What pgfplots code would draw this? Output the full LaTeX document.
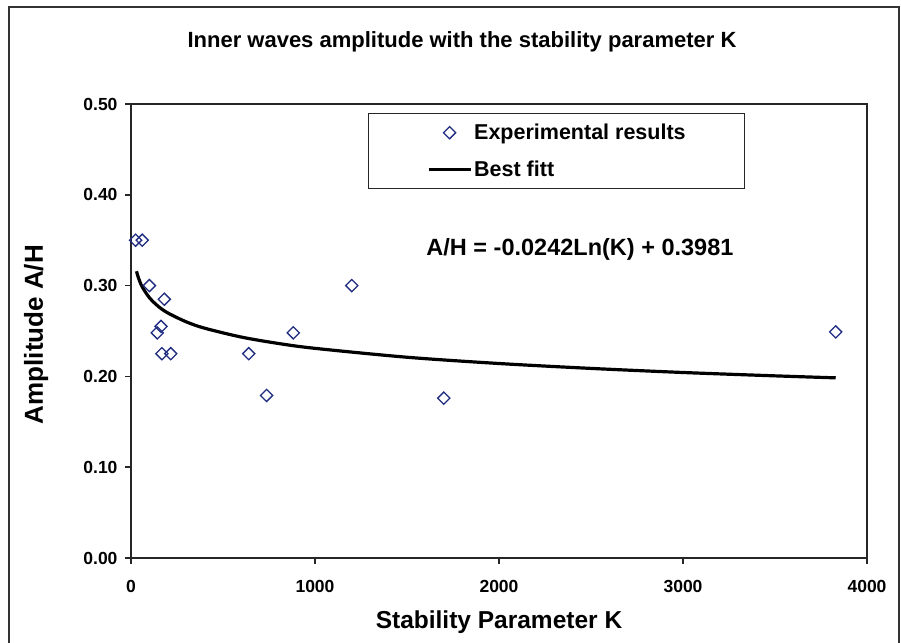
\documentclass[border=0pt]{standalone}
\usepackage{pgfplots}
\pgfplotsset{compat=1.18}
\usepackage{fontspec}
\setmainfont{Liberation Sans}
\definecolor{navy}{RGB}{32,44,128}
\pgfplotsset{
  markleg/.style={legend image code/.code={%
    \path[draw=none] (-60pt,0pt) -- (42pt,0pt);
    \draw[##1] plot coordinates {(21pt,0pt)};}},
  lineleg/.style={legend image code/.code={%
    \path[draw=none] (-60pt,0pt) -- (42pt,0pt);
    \draw[##1] (0pt,0pt) -- (42pt,0pt);}},
}
\begin{document}
\begin{tikzpicture}[x=1pt,y=1pt]
\useasboundingbox (0,0) rectangle (901,642);
\draw[line width=1.5pt, black!80] (9,-5) -- (9,635) -- (899,635) -- (899,-5);
\node[font=\fontsize{22}{26}\selectfont\bfseries] at (462,600) {Inner waves amplitude with the stability parameter K};
\begin{axis}[
  at={(131pt,84pt)}, anchor=south west, scale only axis,
  width=736pt, height=454pt,
  xmin=0, xmax=4000, ymin=0, ymax=0.5,
  xtick={0,1000,2000,3000,4000},
  ytick={0,0.1,0.2,0.3,0.4,0.5},
  axis line style={line width=1.5pt, black!85},
  tick style={line width=1.5pt, black!85},
  tick align=outside, major tick length=6pt,
  xtick pos=bottom, ytick pos=left,
  /pgf/number format/assume math mode=true,
  tick label style={font=\fontsize{17.5}{20}\selectfont\bfseries},
  xticklabel style={yshift=-13pt, /pgf/number format/1000 sep={}},
  yticklabel style={xshift=-4pt, /pgf/number format/.cd, fixed, fixed zerofill, precision=2},
  xlabel={Stability Parameter K},
  ylabel={Amplitude A/H},
  xlabel style={font=\fontsize{24.5}{28}\selectfont\bfseries, at={(axis description cs:0.5,-0.141)}, anchor=center},
  ylabel style={font=\fontsize{26}{30}\selectfont\bfseries, at={(axis description cs:-0.129,0.492)}, anchor=center, rotate=0},
  legend cell align=left,
  legend style={at={(axis description cs:0.322,0.980)}, anchor=north west,
    draw=black!85, line width=1.2pt, inner xsep=0pt, inner ysep=10.5pt,
    row sep=19.5pt, column sep=2pt,
    nodes={inner sep=0pt},
    font=\fontsize{21.5}{24}\selectfont\bfseries},
]
\addplot[only marks, mark=square, mark size=4.3pt, mark options={rotate=45, navy, line width=1.3pt}, markleg]
coordinates {
(25,0.350) (61,0.350) (100,0.300) (181,0.285) (163,0.255) (143,0.248)
(168,0.225) (216,0.225) (640,0.225) (737,0.179) (882,0.248) (1200,0.300)
(1700,0.176) (3830,0.249)
};
\addlegendentry{\vphantom{Ep}\makebox[270pt][l]{Experimental results}}
\addplot[black, line width=3.2pt, smooth, lineleg]
coordinates {
(30,0.3158) (40,0.3088) (60,0.2990) (100,0.2867) (150,0.2768) (200,0.2699)
(300,0.2601) (400,0.2531) (600,0.2433) (800,0.2363) (1000,0.2309)
(1500,0.2211) (2000,0.2142) (2500,0.2088) (3000,0.2043) (3500,0.2006)
(3830,0.1984)
};
\addlegendentry{\vphantom{Ep}\makebox[270pt][l]{Best fitt}}
\node[font=\fontsize{23.5}{26}\selectfont\bfseries] at (axis cs:2440,0.340) {A/H = -0.0242Ln(K) + 0.3981};
\end{axis}
\end{tikzpicture}
\end{document}
